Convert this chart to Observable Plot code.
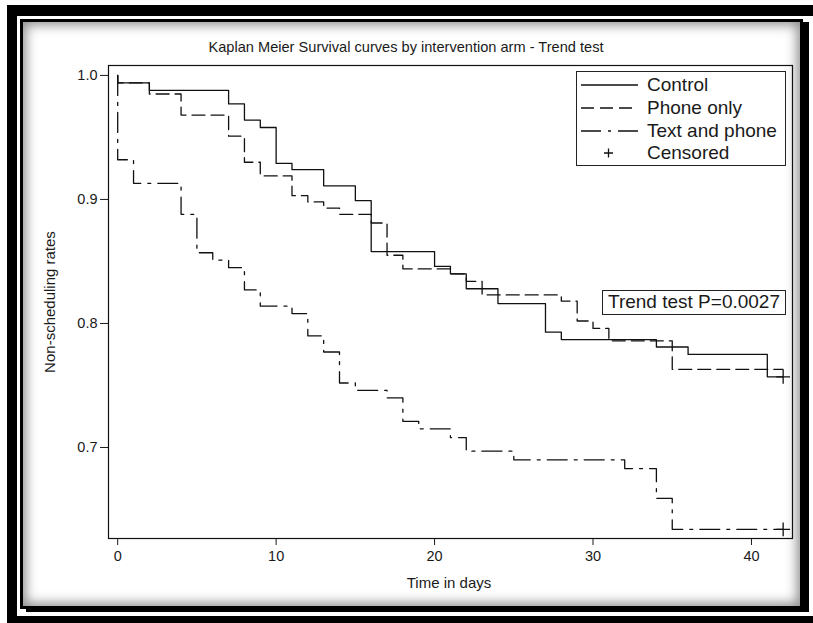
<!DOCTYPE html>
<html><head><meta charset="utf-8">
<script src="https://cdn.jsdelivr.net/npm/d3@7"></script>
<script src="https://cdn.jsdelivr.net/npm/@observablehq/plot@0.6"></script>
<style>
html,body{margin:0;padding:0;width:813px;height:623px;overflow:hidden;background:#fff;font-family:"Liberation Sans",Arial,sans-serif;color:#1a1a1a}
#page{position:relative;width:813px;height:623px;overflow:hidden;background:#fff}
#outer{position:absolute;left:7px;top:5px;width:830px;height:622px;border:11px solid #000;border-left-width:10px;box-sizing:border-box}
#inner{position:absolute;left:20px;top:19px;width:783px;height:590px;border:3px solid #000;box-sizing:border-box;box-shadow:6px 3px 0 #000, inset 0 0 12px 3px rgba(0,0,0,0.45);background:#fff}
#chart{position:absolute;left:0;top:0}
.t{position:absolute;white-space:nowrap;line-height:1}
#legend{position:absolute;left:576px;top:71px;width:210px;height:95px;border:1.3px solid #222;box-sizing:border-box;background:#fff}
.row{position:absolute;left:0;height:22px;width:100%}
.row svg{position:absolute;left:4px;top:5px}
.row span{position:absolute;left:70px;top:1px;font-size:19px;line-height:20px}
#trend{position:absolute;left:602px;top:290px;width:184px;height:25px;border:1.3px solid #222;box-sizing:border-box;background:#fff;font-size:19px;line-height:22px;padding-left:5px;white-space:nowrap}
</style></head>
<body>
<div id="page">
  <div id="outer"></div>
  <div id="inner"></div>
  <div id="chart"></div>
  <div class="t" id="title" style="left:406px;top:40px;transform:translateX(-50%);font-size:14.6px;">Kaplan Meier Survival curves by intervention arm - Trend test</div>
  <div class="t" id="xlabel" style="left:449px;top:575px;transform:translateX(-50%);font-size:15px;">Time in days</div>
  <div class="t" id="ylabel" style="left:49px;top:302px;transform:translate(-50%,-50%) rotate(-90deg);font-size:15px;">Non-scheduling rates</div>
  <div id="legend"></div>
  <div id="trend"></div>
</div>
<script>
// ---- data ----
const armNames = ["Control", "Phone only", "Text and phone"];
const armDash = ["none", "13,6", "20,7,3,7"];

const controlT = [0,0,2,7,8,9,10,11,13,15,16,20,21,22,24,27,28,34,36,41,42];
const controlS = [1,0.994,0.988,0.977,0.964,0.958,0.929,0.924,0.911,0.899,0.858,0.846,0.840,0.828,0.816,0.793,0.787,0.781,0.775,0.757,0.757];

const phoneT = [0,0,2,4,7,8,9,11,12,13,14,16,17,18,21,22,23,28,29,30,31,35,42];
const phoneS = [1,0.994,0.985,0.968,0.951,0.930,0.919,0.903,0.898,0.893,0.888,0.881,0.855,0.844,0.840,0.834,0.823,0.818,0.802,0.796,0.786,0.763,0.763];

const textT = [0,0,1,4,5,6,7,8,9,11,12,13,14,15,17,18,19,21,22,25,32,34,35,42];
const textS = [1,0.932,0.913,0.888,0.857,0.851,0.845,0.827,0.814,0.808,0.790,0.777,0.752,0.746,0.740,0.721,0.715,0.708,0.697,0.690,0.683,0.659,0.634,0.634];

const censoredArm = ["Control", "Text and phone"];
const censoredT = [42, 42];
const censoredS = [0.757, 0.634];

const xTicks = [0, 10, 20, 30, 40];
const yTicks = [0.7, 0.8, 0.9, 1.0];
const legendLabels = ["Control", "Phone only", "Text and phone", "Censored"];
const trendText = "Trend test P=0.0027";

// ---- build tables ----
const series = [[controlT, controlS], [phoneT, phoneS], [textT, textS]];
const rows = series.map(([T, S], i) => T.map((t, j) => ({arm: armNames[i], t, s: S[j]})));
const censored = censoredT.map((t, i) => ({arm: censoredArm[i], t, s: censoredS[i]}));

const ink = "#111";
const chart = Plot.plot({
  width: 813, height: 623,
  marginLeft: 108, marginRight: 21, marginTop: 65, marginBottom: 85,
  style: {background: "transparent", fontFamily: "'Liberation Sans', Arial, sans-serif", fontSize: "14.5px", color: "#1a1a1a", overflow: "visible"},
  x: {domain: [-0.58, 42.59], ticks: xTicks, tickSize: 7, tickPadding: 5, label: null},
  y: {domain: [0.6266, 1.008], ticks: yTicks, tickSize: 8, tickPadding: 3, tickFormat: d => d.toFixed(1), label: null},
  marks: [
    Plot.frame({stroke: ink, strokeWidth: 1.2}),
    ...rows.map((r, i) => Plot.line(r, {x: "t", y: "s", curve: "step-after", stroke: ink, strokeWidth: 1.3, strokeDasharray: armDash[i] === "none" ? undefined : armDash[i]})),
    Plot.dot(censored, {x: "t", y: "s", symbol: "plus", r: 4.5, stroke: ink, strokeWidth: 1.3})
  ]
});
document.getElementById("chart").appendChild(chart);

// ---- legend ----
const legend = document.getElementById("legend");
const rowTops = [2, 25, 48, 70];
legendLabels.forEach((lab, i) => {
  const row = document.createElement("div");
  row.className = "row";
  row.style.top = rowTops[i] + "px";
  let sample;
  if (i < 3) {
    const dash = armDash[i] === "none" ? "" : `stroke-dasharray="${armDash[i]}"`;
    sample = `<svg width="58" height="12"><line x1="0" y1="6" x2="57" y2="6" stroke="${ink}" stroke-width="1.3" ${dash}/></svg>`;
  } else {
    sample = `<svg width="58" height="12"><path d="M27.5,1.5V10.5M23,6H32" stroke="${ink}" stroke-width="1.3" fill="none"/></svg>`;
  }
  row.innerHTML = sample + `<span>${lab}</span>`;
  legend.appendChild(row);
});
document.getElementById("trend").textContent = trendText;
</script>
</body></html>
